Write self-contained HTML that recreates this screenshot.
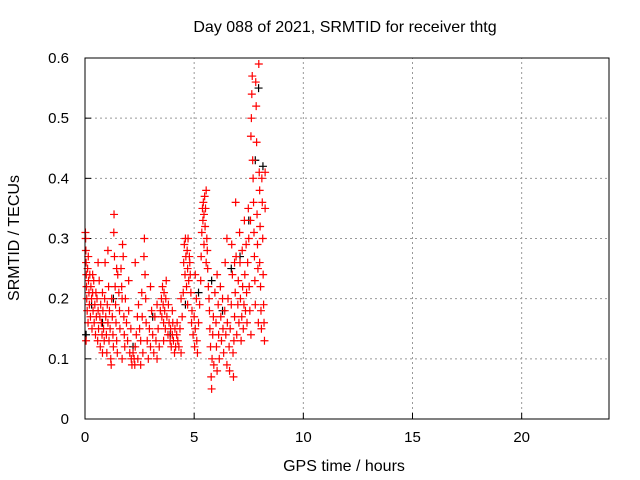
<!DOCTYPE html>
<html><head><meta charset="utf-8"><style>
body{margin:0;background:#fff}
svg{display:block;font-family:"Liberation Sans",sans-serif}
</style></head><body>
<svg id="c" width="640" height="480">
<text x="345" y="32" font-size="16" text-anchor="middle">Day 088 of 2021, SRMTID for receiver thtg</text>
<text x="344" y="471" font-size="16" text-anchor="middle">GPS time / hours</text>
<text transform="translate(19,238) rotate(-90)" font-size="16" text-anchor="middle">SRMTID / TECUs</text>
<g id="grid"></g>
<g id="ticks"></g>
<g id="pts"></g>
<rect x="85" y="58" width="524" height="361" fill="none" stroke="#000"/>
</svg>
<script>
const xTicks=[0,5,10,15,20];
const yTicks=[0,0.1,0.2,0.3,0.4,0.5,0.6];
const yTickLabels=["0","0.1","0.2","0.3","0.4","0.5","0.6"];
const redPoints=[
[0.02,0.31],[0.03,0.30],[0.04,0.28],[0.05,0.26],[0.06,0.24],[0.07,0.22],[0.05,0.13],[0.08,0.20],[0.1,0.18],[0.12,0.25],[0.14,0.16],[0.16,0.23],[0.18,0.21],
[0.2,0.19],[0.22,0.24],[0.25,0.17],[0.27,0.22],[0.3,0.2],[0.32,0.15],[0.35,0.21],[0.37,0.18],[0.4,0.23],[0.42,0.16],[0.45,0.19],[0.48,0.14],[0.5,0.21],
[0.52,0.17],[0.55,0.2],[0.58,0.13],[0.6,0.18],[0.62,0.15],[0.65,0.23],[0.68,0.17],[0.7,0.12],[0.72,0.19],[0.75,0.16],[0.78,0.14],[0.8,0.21],[0.82,0.18],
[0.85,0.15],[0.88,0.13],[0.9,0.2],[0.92,0.26],[0.95,0.17],[0.98,0.14],[1.0,0.11],[1.02,0.19],[1.05,0.16],[1.08,0.22],[1.1,0.13],[1.12,0.18],[1.15,0.15],
[1.18,0.1],[1.2,0.09],[1.22,0.2],[1.25,0.17],[1.28,0.14],[1.3,0.12],[1.32,0.31],[1.33,0.34],[1.35,0.27],[1.38,0.22],[1.4,0.19],[1.42,0.16],[1.45,0.13],
[1.48,0.11],[1.5,0.24],[1.55,0.21],[1.58,0.18],[1.6,0.15],[1.65,0.25],[1.68,0.22],[1.7,0.2],[1.72,0.29],[1.75,0.27],[1.78,0.17],[1.8,0.14],[1.82,0.12],
[1.85,0.2],[1.9,0.16],[1.95,0.13],[2.0,0.18],[2.05,0.11],[2.1,0.15],[2.12,0.1],[2.15,0.09],[2.2,0.11],[2.25,0.1],[2.28,0.09],[2.3,0.12],[2.35,0.14],
[2.4,0.17],[2.42,0.1],[2.45,0.19],[2.5,0.15],[2.55,0.13],[2.6,0.21],[2.62,0.17],[2.65,0.11],[2.7,0.27],[2.72,0.3],[2.75,0.24],[2.78,0.2],[2.8,0.16],
[2.85,0.13],[2.9,0.1],[2.95,0.15],[3.0,0.12],[3.05,0.18],[3.1,0.14],[3.15,0.11],[3.2,0.17],[3.25,0.13],[3.3,0.1],[3.35,0.15],[3.4,0.12],[3.45,0.18],
[3.5,0.2],[3.52,0.17],[3.55,0.22],[3.58,0.19],[3.6,0.16],[3.62,0.21],[3.65,0.18],[3.68,0.15],[3.7,0.2],[3.72,0.23],[3.75,0.17],[3.8,0.14],[3.82,0.19],
[3.85,0.16],[3.9,0.13],[3.92,0.15],[3.95,0.12],[4.0,0.14],[4.02,0.16],[4.05,0.13],[4.1,0.11],[4.12,0.15],[4.15,0.12],[4.2,0.14],[4.22,0.16],[4.25,0.13],
[4.3,0.12],[4.35,0.15],[4.4,0.11],[4.45,0.17],[4.5,0.21],[4.52,0.26],[4.55,0.29],[4.58,0.24],[4.6,0.3],[4.62,0.27],[4.65,0.22],[4.68,0.28],[4.7,0.25],
[4.72,0.3],[4.75,0.23],[4.78,0.27],[4.8,0.26],[4.82,0.24],[4.85,0.21],[4.88,0.16],[4.9,0.18],[4.95,0.14],[5.0,0.17],[5.02,0.12],[5.05,0.15],[5.1,0.2],
[5.12,0.13],[5.15,0.11],[5.2,0.16],[5.25,0.19],[5.3,0.23],[5.32,0.27],[5.35,0.31],[5.38,0.35],[5.4,0.33],[5.42,0.36],[5.45,0.34],[5.48,0.37],[5.5,0.32],
[5.52,0.35],[5.55,0.38],[5.58,0.3],[5.6,0.28],[5.62,0.25],[5.65,0.22],[5.68,0.2],[5.7,0.18],[5.72,0.15],[5.75,0.12],[5.78,0.07],[5.8,0.05],[5.82,0.1],
[5.85,0.14],[5.88,0.17],[5.9,0.09],[5.95,0.21],[6.0,0.16],[6.02,0.12],[6.05,0.24],[6.1,0.19],[6.12,0.14],[6.15,0.1],[6.2,0.22],[6.22,0.17],[6.25,0.13],
[6.3,0.2],[6.32,0.15],[6.35,0.11],[6.4,0.18],[6.42,0.26],[6.45,0.14],[6.5,0.09],[6.52,0.16],[6.55,0.2],[6.6,0.12],[6.62,0.08],[6.65,0.15],[6.7,0.19],
[6.72,0.29],[6.75,0.24],[6.78,0.11],[6.8,0.07],[6.82,0.13],[6.85,0.17],[6.88,0.21],[6.9,0.36],[6.92,0.27],[6.95,0.14],[7.0,0.19],[7.02,0.23],[7.05,0.16],
[7.08,0.31],[7.1,0.26],[7.12,0.2],[7.15,0.13],[7.18,0.17],[7.2,0.28],[7.22,0.22],[7.25,0.15],[7.28,0.19],[7.3,0.33],[7.32,0.24],[7.35,0.18],[7.38,0.29],
[7.4,0.21],[7.42,0.16],[7.45,0.26],[7.48,0.35],[7.5,0.3],[7.52,0.22],[7.55,0.18],[7.58,0.33],[7.6,0.47],[7.62,0.5],[7.64,0.54],[7.66,0.57],[7.68,0.43],
[7.7,0.4],[7.72,0.36],[7.74,0.31],[7.76,0.27],[7.78,0.23],[7.8,0.19],[7.82,0.56],[7.84,0.52],[7.86,0.46],[7.88,0.34],[7.9,0.29],[7.92,0.25],[7.94,0.16],
[7.96,0.59],[7.98,0.41],[8.0,0.38],[8.02,0.32],[8.04,0.22],[8.06,0.18],[8.08,0.15],[8.1,0.4],[8.12,0.36],[8.14,0.3],[8.16,0.24],[8.18,0.19],[8.2,0.16],
[8.22,0.13],[8.25,0.41],[8.25,0.35],[0.15,0.27],[0.35,0.24],[0.6,0.26],[0.8,0.11],[1.05,0.28],[1.45,0.25],[1.7,0.1],[2.0,0.23],[2.3,0.26],[2.55,0.09],
[3.0,0.22],[3.3,0.19],[3.6,0.13],[4.0,0.18],[4.4,0.2],[4.7,0.19],[5.05,0.24],[5.45,0.29],[5.55,0.26],[6.05,0.08],[6.5,0.3],[6.85,0.26],[7.6,0.14],[8.0,0.26]
];
const blackPoints=[[0.05,0.14],[0.3,0.19],[0.8,0.16],[1.3,0.2],[2.2,0.12],[3.1,0.17],[3.9,0.14],[4.6,0.19],[5.2,0.21],[5.8,0.23],[6.3,0.18],[6.7,0.25],[7.1,0.27],[7.5,0.33],[7.8,0.43],[7.95,0.55],[8.15,0.42]];
const X0=85,X1=609,Y0=419,Y1=58;
const xs=t=>X0+(t/24)*(X1-X0);
const ys=v=>Y0-(v/0.6)*(Y0-Y1);
const NS="http://www.w3.org/2000/svg";
const grid=document.getElementById('grid'),ticks=document.getElementById('ticks'),pts=document.getElementById('pts');
function mk(tag,attrs,parent){const e=document.createElementNS(NS,tag);for(const k in attrs)e.setAttribute(k,attrs[k]);parent.appendChild(e);return e;}
xTicks.forEach(t=>{const x=xs(t);
 if(t>0){const g=mk('line',{x1:x,x2:x,y1:Y0,y2:Y1,stroke:'#999','stroke-dasharray':'2,3'},grid);
 
 }
 const l=mk('text',{x:x,y:Y0+23,'font-size':15,'text-anchor':'middle'},ticks);l.textContent=t;
 
 
 mk('line',{x1:x,x2:x,y1:Y0,y2:Y0-6,stroke:'#000'},ticks);});
yTicks.forEach((v,i)=>{const y=ys(v);
 if(v>0&&v<0.6){const g=mk('line',{x1:X0,x2:X1,y1:y,y2:y,stroke:'#999','stroke-dasharray':'2,3'},grid);
 
 }
 const l=mk('text',{x:X0-16,y:y+5,'font-size':15,'text-anchor':'end'},ticks);l.textContent=yTickLabels[i];
 
 
 mk('line',{x1:X0,x2:X0+6,y1:y,y2:y,stroke:'#000'},ticks);});
function plus(t,v,col,name){const x=xs(t),y=ys(v);
 const p=mk('path',{d:`M${x-4},${y}h8M${x},${y-4}v8`,stroke:col,'stroke-width':1.2,fill:'none'},pts);
 
 }
blackPoints.forEach(p=>plus(p[0],p[1],'#000','black-point'));
redPoints.forEach(p=>plus(p[0],p[1],'#f00','red-point'));
</script>
</body></html>
